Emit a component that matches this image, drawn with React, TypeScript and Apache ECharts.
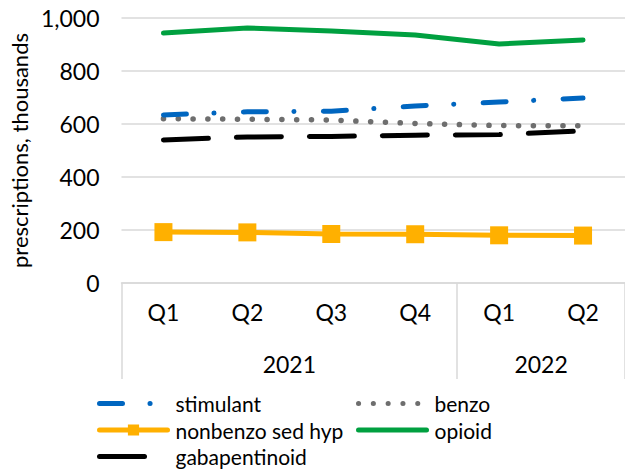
import React, { useEffect, useRef } from "react";
import * as echarts from "echarts";

const quarters = ["Q1", "Q2", "Q3", "Q4", "Q1", "Q2"];
const years = ["2021", "2022"];
const quartersPerYear = [4, 2];

const stimulant = [634, 646, 648, 668, 683, 698];
const benzo = [620, 618, 615, 602, 594, 593];
const nonbenzo = [192, 191, 185, 184, 180, 179];
const opioid = [943, 962, 951, 936, 902, 917];
const gabapentinoid = [540, 551, 553, 558, 560, 574];

const yTicks = [0, 200, 400, 600, 800, 1000];

const FONT = "Lato, 'Open Sans', sans-serif";

export default function App() {
  const ref = useRef<HTMLDivElement>(null);
  useEffect(() => {
    if (!ref.current) return;
    const chart = echarts.init(ref.current, null, { renderer: "svg" });

    const bounds: number[] = [0];
    const centers: number[] = [];
    quartersPerYear.forEach((n) => {
      const start = bounds[bounds.length - 1];
      centers.push(start + n / 2);
      bounds.push(start + n);
    });

    const axisText = { fontFamily: FONT, fontSize: 23, color: "#000" };
    const legendText = { fontFamily: FONT, fontSize: 21, color: "#000", padding: [0, 0, 0, 3] };
    const noSym = { opacity: 0 };

    const legendCommon = {
      orient: "vertical",
      top: 393,
      padding: 0,
      itemWidth: 68,
      itemHeight: 14,
      itemGap: 5.5,
      selectedMode: false,
      textStyle: legendText,
      lineStyle: { width: 5 },
    };

    chart.setOption({
      animation: false,
      textStyle: { fontFamily: FONT },
      grid: { left: 114, right: 0, top: 18, bottom: 189, containLabel: false },
      xAxis: [
        {
          type: "category",
          data: quarters,
          boundaryGap: true,
          axisLine: { show: true, lineStyle: { color: "#d9d9d9", width: 1.5 } },
          axisTick: { show: false },
          axisLabel: { ...axisText, margin: 17 },
          splitLine: { show: false },
        },
        {
          type: "value",
          position: "bottom",
          min: 0,
          max: quarters.length,
          axisLine: { show: false },
          splitLine: { show: false },
          axisTick: {
            show: true,
            customValues: bounds,
            length: 96,
            lineStyle: { color: "#d9d9d9", width: 1.5 },
          },
          axisLabel: {
            ...axisText,
            customValues: centers,
            margin: 69,
            formatter: (v: number) => {
              const i = centers.findIndex((c) => Math.abs(c - v) < 1e-6);
              return i >= 0 ? years[i] : "";
            },
          },
        },
      ],
      yAxis: {
        type: "value",
        min: yTicks[0],
        max: yTicks[yTicks.length - 1],
        interval: 200,
        name: "prescriptions, thousands",
        nameLocation: "middle",
        nameGap: 81,
        nameTextStyle: { ...axisText, fontSize: 22 },
        axisLine: { show: false },
        axisTick: { show: false },
        axisLabel: {
          ...axisText,
          margin: 22,
          formatter: (v: number) => v.toLocaleString("en-US"),
        },
        splitLine: { lineStyle: { color: "#d9d9d9", width: 1.5 } },
      },
      legend: [
        {
          ...legendCommon,
          left: 97,
          data: [
            { name: "stimulant", itemStyle: noSym },
            { name: "nonbenzo sed hyp" },
            { name: "gabapentinoid", itemStyle: noSym },
          ],
        },
        {
          ...legendCommon,
          left: 356,
          data: [
            { name: "benzo", itemStyle: noSym },
            { name: "opioid", itemStyle: noSym },
          ],
        },
      ],
      series: [
        {
          name: "nonbenzo sed hyp",
          type: "line",
          data: nonbenzo,
          symbol: "rect",
          symbolSize: 18,
          showSymbol: true,
          itemStyle: { color: "#ffb000" },
          lineStyle: { color: "#ffb000", width: 5, cap: "round" },
        },
        {
          name: "opioid",
          type: "line",
          data: opioid,
          symbol: "none",
          itemStyle: { color: "#00a040" },
          lineStyle: { color: "#00a040", width: 5, cap: "round" },
        },
        {
          name: "gabapentinoid",
          type: "line",
          data: gabapentinoid,
          symbol: "none",
          itemStyle: { color: "#000000" },
          lineStyle: { color: "#000000", width: 5, type: [45, 28], cap: "round" },
        },
        {
          name: "benzo",
          type: "line",
          data: benzo,
          symbol: "none",
          itemStyle: { color: "#6e6e6e" },
          lineStyle: { color: "#6e6e6e", width: 5.5, type: [0.1, 14.7], cap: "round" },
        },
        {
          name: "stimulant",
          type: "line",
          data: stimulant,
          symbol: "none",
          itemStyle: { color: "#0066c0" },
          lineStyle: { color: "#0066c0", width: 5, type: [23, 27.5, 0.1, 29.4], cap: "round" },
        },
      ],
    });
    return () => chart.dispose();
  }, []);
  return (
    <div
      ref={ref}
      style={{ position: "absolute", left: 0, top: 0, width: 625, height: 472 }}
    />
  );
}
